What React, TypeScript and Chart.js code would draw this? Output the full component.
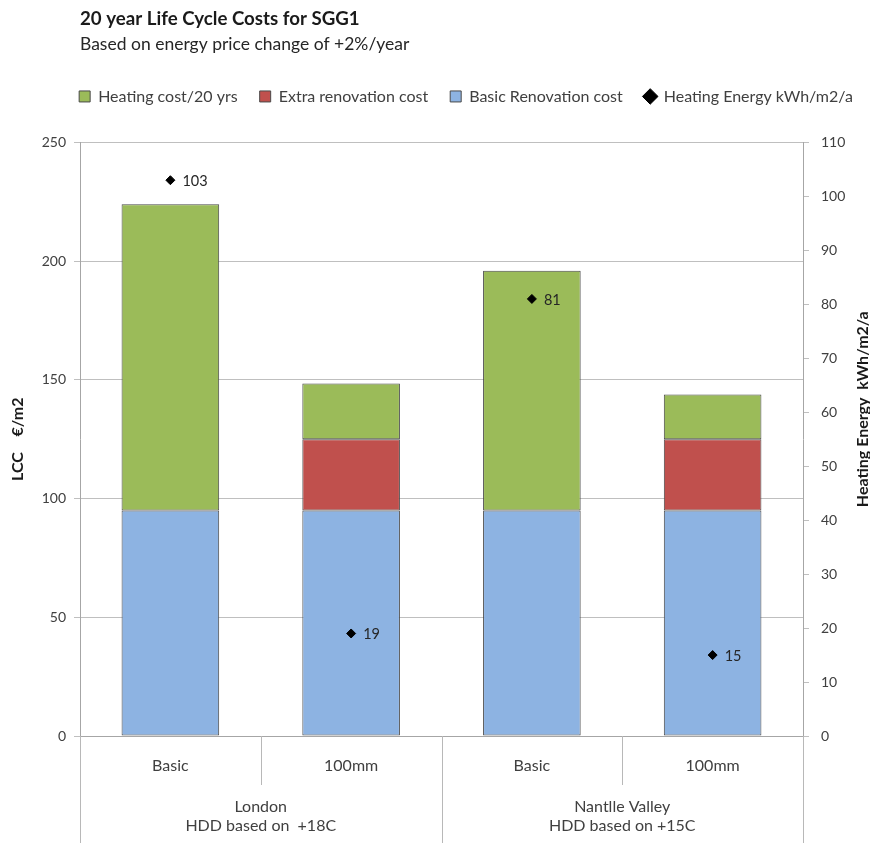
import React, { useEffect, useRef } from "react";
import { Chart, registerables, layouts } from "chart.js";

Chart.register(...registerables);

const titleText = "20 year Life Cycle Costs for SGG1";
const subtitleText = "Based on energy price change of +2%/year";
const categories = ["Basic", "100mm", "Basic", "100mm"];
const groupLabels = [
  ["London", "HDD based on  +18C"],
  ["Nantlle Valley", "HDD based on +15C"],
];
const basicRenovation = [95, 95, 95, 95];
const extraRenovation = [null, 30, null, 30];
const heatingCost = [129, 23.5, 101, 18.8];
const heatingEnergy = [103, 19, 81, 15];
const leftTitle = "LCC    €/m2";
const rightTitle = "Heating Energy  kWh/m2/a";

const FONT = "Lato, 'Open Sans', sans-serif";
const TXT = "#404040";

const spacerPlugin = {
  id: "spacer",
  beforeInit(chart: any) {
    const box: any = {
      position: "top",
      weight: 500,
      fullSize: true,
      top: 0,
      left: 0,
      right: 0,
      bottom: 0,
      width: 0,
      height: 0,
      options: {},
      isHorizontal() {
        return true;
      },
      update(maxWidth: number) {
        this.width = maxWidth;
        this.height = 28;
      },
      draw() {},
    };
    layouts.addBox(chart, box);
  },
  afterLayout(chart: any) {
    const lg = chart.legend;
    if (lg) {
      lg.left += 27;
      lg.right += 27;
    }
  },
};

const overlayPlugin = {
  id: "overlay",
  afterDraw(chart: any) {
    const ctx = chart.ctx;
    const ca = chart.chartArea;
    const xs = chart.scales.x;
    const n = categories.length;
    const w = ca.width / n;
    ctx.save();
    ctx.strokeStyle = "#b8b8b8";
    ctx.lineWidth = 1;
    for (let k = 0; k <= n; k++) {
      const x = Math.round(ca.left + k * w) + 0.5;
      const y2 = k % 2 === 0 ? chart.height : ca.bottom + 49;
      ctx.beginPath();
      ctx.moveTo(x, ca.bottom);
      ctx.lineTo(x, y2);
      ctx.stroke();
    }
    ctx.fillStyle = TXT;
    ctx.font = `16px ${FONT}`;
    ctx.textAlign = "center";
    ctx.textBaseline = "middle";
    groupLabels.forEach((lines, g) => {
      const cx = (xs.getPixelForValue(2 * g) + xs.getPixelForValue(2 * g + 1)) / 2;
      lines.forEach((t, i) => ctx.fillText(t, cx, ca.bottom + 71 + i * 19));
    });
    // data labels for energy
    const meta = chart.getDatasetMeta(3);
    ctx.font = `14.5px ${FONT}`;
    ctx.textAlign = "left";
    ctx.fillStyle = "#262626";
    meta.data.forEach((pt: any, i: number) => {
      ctx.fillText(String(heatingEnergy[i]), pt.x + 12, pt.y + 1);
    });
    // right axis title
    ctx.font = `bold 16px ${FONT}`;
    ctx.fillStyle = "#1a1a1a";
    ctx.textAlign = "center";
    ctx.translate(chart.width - 7, (ca.top + ca.bottom) / 2 - 30);
    ctx.rotate(-Math.PI / 2);
    ctx.fillText(rightTitle, 0, 0);
    ctx.restore();
  },
};

export default function App() {
  const ref = useRef<HTMLCanvasElement>(null);
  useEffect(() => {
    const rank: Record<number, number> = { 2: 0, 1: 1, 0: 2, 3: 3 };
    const barCommon = {
      borderColor: "#4a4a4a",
      borderWidth: 1,
      borderSkipped: false,
      stack: "s",
      yAxisID: "y",
      pointStyle: "rect",
    };
    const chart = new Chart(ref.current!, {
      type: "bar",
      data: {
        labels: categories,
        datasets: [
          { label: "Basic Renovation cost", data: basicRenovation, backgroundColor: "#8DB3E2", ...barCommon } as any,
          { label: "Extra renovation cost", data: extraRenovation, backgroundColor: "#C0504D", ...barCommon } as any,
          { label: "Heating cost/20 yrs", data: heatingCost, backgroundColor: "#9BBB59", ...barCommon } as any,
          {
            type: "line",
            label: "Heating Energy kWh/m2/a",
            data: heatingEnergy,
            showLine: false,
            pointStyle: "rectRot",
            pointRadius: 4.5,
            pointBackgroundColor: "#000",
            pointBorderColor: "#000",
            backgroundColor: "#000",
            borderColor: "#000",
            yAxisID: "y1",
            order: -1,
          } as any,
        ],
      },
      options: {
        animation: false,
        responsive: true,
        maintainAspectRatio: false,
        layout: { padding: { left: 0, right: 0, top: 0, bottom: 0 } },
        datasets: { bar: { barPercentage: 0.54, categoryPercentage: 1 } },
        plugins: {
          title: {
            display: true,
            text: titleText,
            align: "start",
            fullSize: false,
            color: "#1a1a1a",
            font: { family: FONT, size: 18.7, weight: "bold" },
            padding: { top: 0, bottom: 0 },
          },
          subtitle: {
            display: true,
            text: subtitleText,
            align: "start",
            fullSize: false,
            color: "#262626",
            font: { family: FONT, size: 17.5 },
            padding: { top: 3, bottom: 12 },
          },
          legend: {
            position: "top",
            labels: {
              usePointStyle: true,
              boxWidth: 11,
              boxHeight: 11,
              padding: 22,
              color: TXT,
              font: { family: FONT, size: 16 },
              sort: (a: any, b: any) => rank[a.datasetIndex] - rank[b.datasetIndex],
            },
          },
          tooltip: { enabled: false },
        },
        scales: {
          x: {
            stacked: true,
            grid: { display: false, drawTicks: false },
            border: { color: "#a6a6a6" },
            ticks: { color: TXT, font: { family: FONT, size: 16 }, padding: 20 },
            afterFit: (s: any) => {
              s.height = 107;
            },
          },
          y: {
            stacked: true,
            position: "left",
            min: 0,
            max: 250,
            ticks: { stepSize: 50, color: TXT, font: { family: FONT, size: 14 }, padding: 8 },
            grid: { color: "#bfbfbf", tickLength: 6 },
            border: { color: "#a6a6a6" },
            title: {
              display: true,
              text: leftTitle,
              color: "#1a1a1a",
              font: { family: FONT, size: 16, weight: "bold" },
              padding: { top: 0, bottom: 0 },
            },
            afterFit: (s: any) => {
              s.width = 72;
            },
          },
          y1: {
            position: "right",
            min: 0,
            max: 110,
            ticks: { stepSize: 10, color: TXT, font: { family: FONT, size: 14 }, padding: 12 },
            grid: { drawOnChartArea: false, color: "#bfbfbf", tickLength: 6 },
            border: { color: "#a6a6a6" },
            afterFit: (s: any) => {
              s.width = 67;
            },
          },
        },
      },
      plugins: [spacerPlugin, overlayPlugin],
    });
    return () => chart.destroy();
  }, []);
  return (
    <div style={{ width: 862, height: 835, position: "relative" }}>
      <canvas ref={ref} />
    </div>
  );
}
